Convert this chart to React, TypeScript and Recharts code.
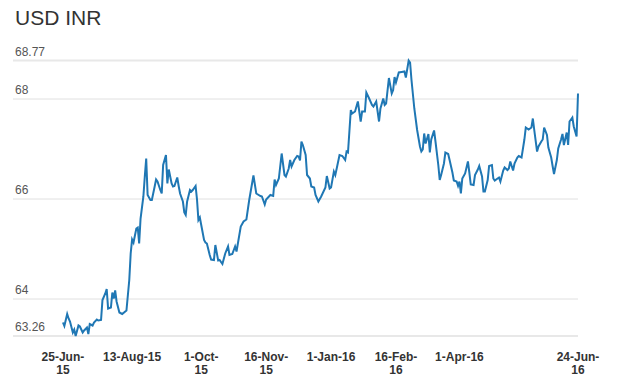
import React from 'react';
import { LineChart, Line, XAxis, YAxis, CartesianGrid, ReferenceLine } from 'recharts';

// days since 25-Jun-15
const days = [
  0, 1, 3, 4, 5, 7, 8, 9, 11, 12, 14, 15, 17, 18, 19, 21, 22, 24, 25, 27,
  28, 30, 31, 32, 34, 35, 36, 37, 38, 40, 42, 45, 47, 48, 49, 50, 52, 53, 54, 55,
  57, 58, 59, 60, 62, 63, 65, 66, 67, 69, 70, 71, 73, 74, 75, 77, 78, 79, 81, 82,
  83, 85, 86, 87, 88, 90, 91, 92, 94, 95, 96, 97, 98, 100, 101, 102, 104, 105, 107, 108,
  110, 111, 113, 115, 117, 118, 120, 122, 123, 126, 128, 130, 132, 135, 137, 140, 141, 143, 144, 147,
  149, 150, 151, 153, 155, 157, 158, 160, 161, 162, 164, 166, 167, 168, 169, 170, 172, 173, 175, 176,
  178, 179, 181, 183, 186, 187, 189, 190, 192, 193, 194, 196, 198, 200, 201, 202, 204, 205, 207, 209,
  211, 212, 214, 215, 217, 219, 220, 222, 224, 225, 227, 228, 229, 231, 233, 234, 235, 236, 238, 240,
  242, 243, 245, 246, 247, 249, 251, 253, 254, 255, 256, 257, 259, 260, 261, 263, 264, 266, 267, 268,
  270, 271, 273, 274, 276, 277, 279, 280, 281, 282, 283, 285, 287, 288, 289, 291, 292, 294, 295, 297,
  298, 299, 301, 302, 304, 305, 306, 308, 309, 310, 312, 313, 315, 316, 317, 319, 320, 322, 323, 325,
  327, 328, 330, 332, 333, 334, 336, 337, 339, 340, 341, 343, 344, 346, 347, 348, 350, 351, 353, 354,
  355, 357, 358, 359, 361, 362, 364, 365,
];

const rates = [
  63.53, 63.46, 63.7, 63.61, 63.55, 63.33, 63.39, 63.26, 63.47, 63.45, 63.33, 63.37, 63.43, 63.3, 63.5, 63.47, 63.53, 63.59, 63.57, 63.58,
  63.98, 64.11, 64.2, 63.81, 63.83, 64.13, 64.01, 64.17, 63.95, 63.73, 63.7, 63.77, 64.38, 64.91, 65.19, 65.13, 65.41, 65.43, 65.11, 65.61,
  66.05, 66.45, 66.81, 66.08, 65.98, 65.98, 66.25, 66.39, 66.35, 66.18, 66.11, 66.68, 66.88, 66.31, 66.59, 66.31, 66.25, 66.26, 66.43, 66.26,
  66.11, 65.95, 65.73, 65.68, 65.95, 66.18, 66.15, 66.18, 66.26, 65.99, 65.58, 65.63, 65.48, 65.18, 65.13, 65.11, 64.88, 64.79, 64.78, 65.08,
  64.77, 64.78, 64.7, 64.91, 65.05, 64.88, 64.9, 65.05, 64.95, 65.45, 65.55, 65.59, 65.98, 66.47, 66.11, 66.06, 66.05, 65.89, 65.99, 66.08,
  66.06, 66.39, 66.28, 66.41, 66.91, 66.48, 66.45, 66.61, 66.78, 66.65, 66.78, 66.86, 66.85, 66.77, 67.15, 67.08, 66.88, 66.48, 66.41, 66.25,
  66.23, 66.08, 65.95, 66.05, 66.23, 66.46, 66.21, 66.23, 66.55, 66.48, 66.61, 66.88, 66.86, 66.78, 66.95, 66.93, 67.78, 67.71, 67.75, 67.95,
  67.55, 67.75, 67.75, 68.13, 68.01, 67.88, 67.85, 67.95, 67.55, 67.81, 68.01, 67.88, 67.91, 68.42, 68.11, 68.18, 68.44, 68.33, 68.53, 68.54,
  68.55, 68.43, 68.77, 68.73, 68.38, 67.81, 67.38, 67.05, 66.95, 66.99, 67.31, 67.11, 67.3, 66.93, 67.19, 67.37, 67.15, 66.68, 66.38, 66.48,
  66.71, 66.93, 66.9, 66.78, 66.53, 66.37, 66.35, 66.26, 66.35, 66.11, 66.41, 66.51, 66.75, 66.53, 66.29, 66.28, 66.48, 66.59, 66.66, 66.45,
  66.15, 66.15, 66.38, 66.66, 66.68, 66.41, 66.37, 66.41, 66.43, 66.35, 66.57, 66.63, 66.58, 66.61, 66.75, 66.57, 66.71, 66.83, 66.86, 66.83,
  67.19, 67.43, 67.39, 67.43, 67.61, 67.38, 66.95, 67.05, 67.15, 67.19, 67.43, 67.28, 67.03, 66.83, 66.66, 66.5, 66.78, 67.01, 67.19, 67.3,
  67.08, 67.33, 67.08, 67.55, 67.63, 67.45, 67.25, 68.11,
];

const xTicks = [0, 49, 98, 144, 190, 236, 281, 365];
const xTickLabels = [
  ['25-Jun-', '15'],
  ['13-Aug-15'],
  ['1-Oct-', '15'],
  ['16-Nov-', '15'],
  ['1-Jan-16'],
  ['16-Feb-', '16'],
  ['1-Apr-16'],
  ['24-Jun-', '16'],
];
const yTicks = [63.26, 64, 66, 68, 68.77];

const data = days.map((day, i) => ({ day, rate: rates[i] }));

const font = '"Liberation Sans", Arial, sans-serif';

function XTick({ x, y, payload }: any) {
  const lines = xTickLabels[xTicks.indexOf(payload.value)] || [];
  return (
    <text x={x} y={y} textAnchor="middle" fill="#333" fontSize={12} fontWeight="bold" fontFamily={font}>
      {lines.map((l, i) => (
        <tspan key={i} x={x} dy={i === 0 ? 17 : 13}>{l}</tspan>
      ))}
    </text>
  );
}

function YTick({ y, payload }: any) {
  return (
    <text x={15} y={y - 5} fill="#555" fontSize={12} fontFamily={font} textAnchor="start">
      {String(payload.value)}
    </text>
  );
}

export default function App() {
  return (
    <div style={{ position: 'absolute', left: 0, top: 0, width: 617, height: 387, background: '#fff' }}>
      <div style={{ position: 'absolute', left: 15, top: 7, fontSize: 21, lineHeight: '21px', color: '#333', fontFamily: font }}>
        USD INR
      </div>
      <LineChart width={617} height={387} data={data} margin={{ top: 60.5, right: 39, left: 3, bottom: 11 }}>
        <CartesianGrid vertical={false} stroke="#e0e0e0" />
        <XAxis
          type="number"
          dataKey="day"
          domain={[-35.4, 365]}
          ticks={xTicks}
          interval={0}
          height={40}
          tickLine={false}
          axisLine={false}
          tick={<XTick />}
        />
        <YAxis
          type="number"
          domain={[63.26, 68.77]}
          ticks={yTicks}
          interval={0}
          width={10}
          tickLine={false}
          axisLine={false}
          tick={(props: any) => <YTick {...props} />}
        />
        <ReferenceLine y={68.77} stroke="#e8e8e8" strokeWidth={2} />
        <ReferenceLine y={63.26} stroke="#e8e8e8" strokeWidth={2} />
        <Line
          type="linear"
          dataKey="rate"
          stroke="#1f77b4"
          strokeWidth={2}
          dot={false}
          isAnimationActive={false}
        />
      </LineChart>
    </div>
  );
}
